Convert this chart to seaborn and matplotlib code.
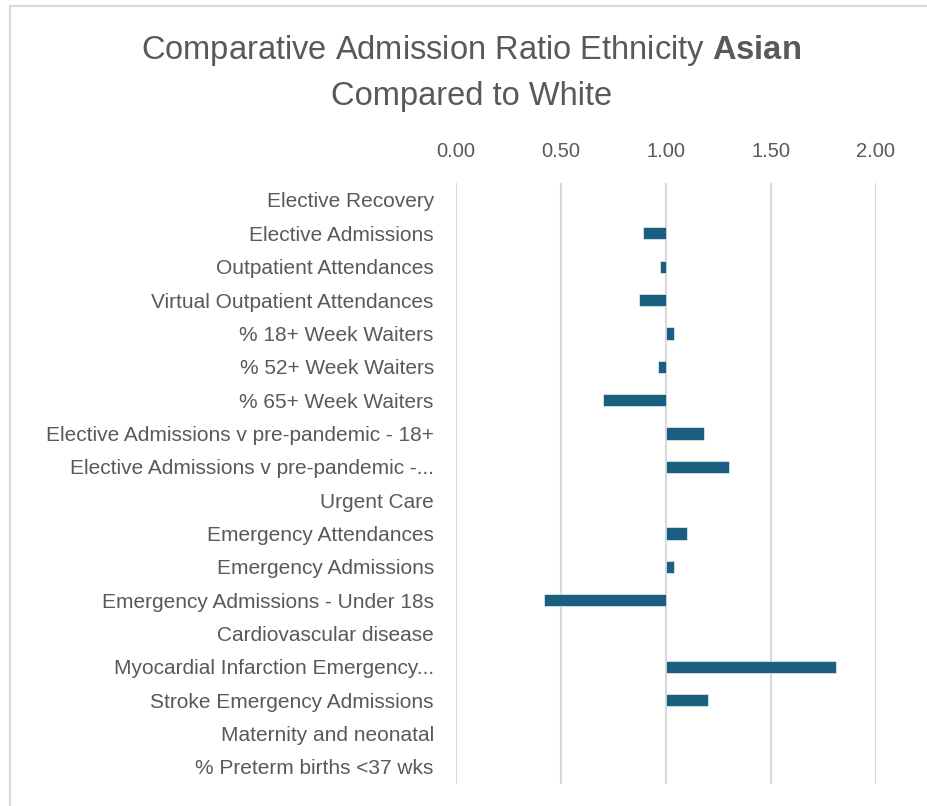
import numpy as np
import pandas as pd
import seaborn as sns
import matplotlib.pyplot as plt
from matplotlib.patches import Rectangle

# chart data: ratio of Asian vs White (1.00 = parity), NaN where no bar / section header
categories = [
    "Elective Recovery",
    "Elective Admissions",
    "Outpatient Attendances",
    "Virtual Outpatient Attendances",
    "% 18+ Week Waiters",
    "% 52+ Week Waiters",
    "% 65+ Week Waiters",
    "Elective Admissions v pre-pandemic - 18+",
    "Elective Admissions v pre-pandemic -...",
    "Urgent Care",
    "Emergency Attendances",
    "Emergency Admissions",
    "Emergency Admissions - Under 18s",
    "Cardiovascular disease",
    "Myocardial Infarction Emergency...",
    "Stroke Emergency Admissions",
    "Maternity and neonatal",
    "% Preterm births <37 wks",
]
ratios = [np.nan, 0.89, 0.97, 0.87, 1.04, 0.96, 0.70, 1.18, 1.30,
          np.nan, 1.10, 1.04, 0.42, np.nan, 1.81, 1.20, np.nan, np.nan]
x_ticks = [0.0, 0.5, 1.0, 1.5, 2.0]
baseline = 1.0

text_color = "#595959"
bar_color = "#1A5E80"
grid_color = "#D9D9D9"

df = pd.DataFrame({"category": categories, "ratio": ratios})
df["delta"] = df["ratio"] - baseline

sns.set_style("white")
plt.rcParams["font.family"] = ["Liberation Sans", "DejaVu Sans"]
plt.rcParams["mathtext.fontset"] = "custom"
plt.rcParams["mathtext.rm"] = "Liberation Sans"
plt.rcParams["mathtext.bf"] = "Liberation Sans:bold"

fig = plt.figure(figsize=(9.28, 8.06), dpi=100)
ax = fig.add_axes([456 / 928, 1 - 783.6 / 806, 420 / 928, 600.3 / 806])

# bars drawn from the 1.00 baseline
sns.barplot(data=df, x="delta", y="category", order=categories, orient="h",
            left=baseline, color=bar_color, width=0.37, saturation=1,
            edgecolor="white", linewidth=0.4, ax=ax)

ax.set_xlim(0, 2)
ax.set_ylim(len(categories) - 0.5, -0.5)
ax.set_xticks(x_ticks)
ax.set_xticklabels([f"{t:.2f}" for t in x_ticks])
ax.xaxis.tick_top()
for t in x_ticks:
    ax.axvline(t, color=grid_color, lw=1.5, zorder=0)
ax.tick_params(axis="x", length=0, pad=16, labelsize=14.5, labelcolor=text_color)
ax.tick_params(axis="y", length=0, pad=16, labelsize=15, labelcolor=text_color)
ax.set_xlabel("")
ax.set_ylabel("")
sns.despine(ax=ax, left=True, bottom=True)

# title with bold ethnicity
fig.text(0.508, 1 - 50 / 806, r"Comparative Admission Ratio Ethnicity $\bf{Asian}$",
         ha="center", va="center", fontsize=23.5, color=text_color)
fig.text(0.508, 1 - 97 / 806, "Compared to White",
         ha="center", va="center", fontsize=23.5, color=text_color)

# chart-area frame (cropped at the right and bottom)
fig.patches.append(Rectangle((10.5 / 928, -0.1), 1.2, 1 - 5.5 / 806 + 0.1,
                             transform=fig.transFigure, fill=False,
                             edgecolor="#D9D9D9", lw=1.5))

fig.savefig("out.png", dpi=100)
plt.close(fig)
